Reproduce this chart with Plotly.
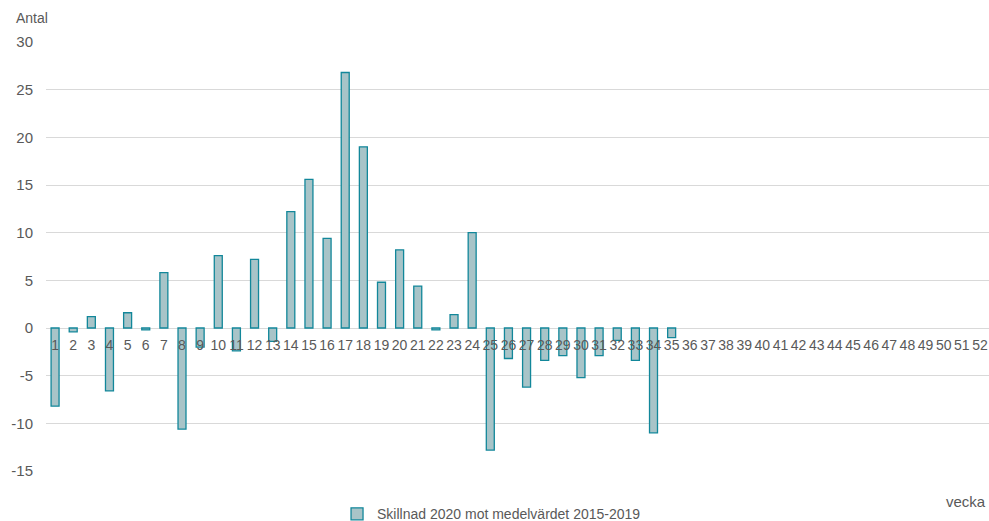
import plotly.graph_objects as go

weeks = [str(w) for w in range(1, 53)]
values = [-8.2, -0.4, 1.2, -6.6, 1.6, -0.2, 5.8, -10.6, -2.0, 7.6,
          -2.4, 7.2, -1.4, 12.2, 15.6, 9.4, 26.8, 19.0, 4.8, 8.2,
          4.4, -0.2, 1.4, 10.0, -12.8, -3.2, -6.2, -3.4, -2.9, -5.2,
          -2.9, -1.3, -3.4, -11.0, -1.0] + [None] * 17
series_name = "Skillnad 2020 mot medelvärdet 2015-2019"
y_ticks = [-15, -10, -5, 0, 5, 10, 15, 20, 25, 30]
y_tick_labels = [str(v) for v in y_ticks]

font = "Liberation Sans, Arial, sans-serif"
grey = "#595959"

fig = go.Figure()
fig.add_trace(go.Bar(
    x=weeks, y=values, name=series_name,
    marker=dict(color="#a8c4c8", line=dict(color="#12879a", width=1.3)),
    showlegend=True,
))

fig.update_layout(
    width=989, height=521,
    margin=dict(l=46, r=0, t=42, b=50, autoexpand=False),
    plot_bgcolor="white", paper_bgcolor="white",
    font=dict(family=font, size=14, color=grey),
    bargap=0.56,
    xaxis=dict(
        type="category", anchor="free", position=1/3,
        showgrid=False, showline=False, ticks="",
        ticklabelstandoff=7,
        tickfont=dict(size=14, color=grey),
        automargin=False,
    ),
    yaxis=dict(
        range=[-15, 30], tickvals=y_ticks, ticktext=y_tick_labels,
        showgrid=True, gridcolor="#d9d9d9", gridwidth=1,
        zeroline=True, zerolinecolor="#d9d9d9", zerolinewidth=1,
        ticks="", showline=False, ticklabelstandoff=12,
        tickfont=dict(size=15, color=grey),
        automargin=False,
    ),
    legend=dict(
        orientation="h", xref="container", yref="container",
        x=0.497, xanchor="center", y=0.013, yanchor="middle",
        font=dict(size=14, color=grey),
    ),
    annotations=[
        dict(text="Antal", xref="paper", yref="paper", x=-0.034, y=1.056,
             xanchor="left", yanchor="middle", showarrow=False,
             font=dict(size=14, color=grey)),
        dict(text="vecka", xref="paper", yref="paper", x=0.999, y=-0.072,
             xanchor="right", yanchor="middle", showarrow=False,
             font=dict(size=15, color=grey)),
    ],
)

fig.write_html(
    "out.html",
    config={"displayModeBar": False},
    post_script="document.body.style.margin='0';document.body.style.padding='0';",
)
